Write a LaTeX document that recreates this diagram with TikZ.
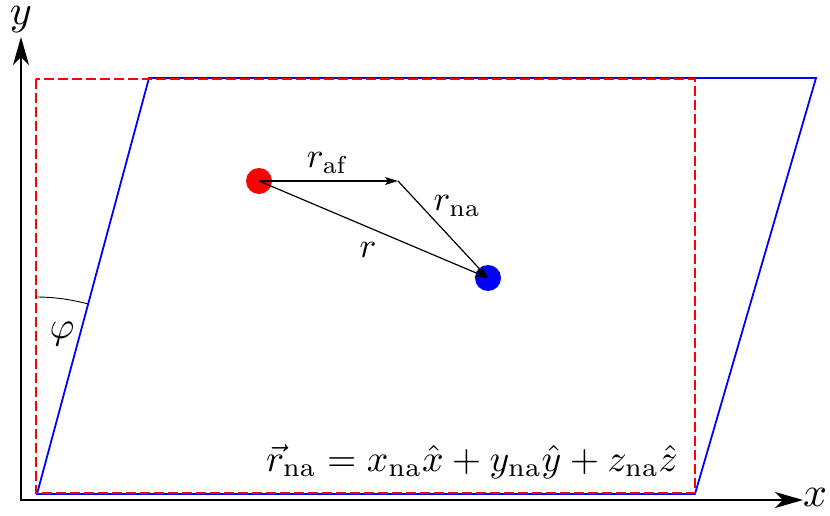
\documentclass[tikz,border=0pt]{standalone}
\usetikzlibrary{arrows.meta}
\begin{document}
\begin{tikzpicture}[x=1pt,y=-1pt,
  axis/.style={line width=1.6pt,{Stealth[length=28pt,width=16pt,inset=8pt]}-{Stealth[length=28pt,width=16pt,inset=8pt]}},
  vec/.style={line width=1.2pt,-{Stealth[length=13pt,width=8pt,inset=3pt]}},
  cell/.style={blue,line width=1.8pt,line join=miter},
  box/.style={red,line width=1.8pt,dash pattern=on 10pt off 4pt},
  dot/.style={circle,inner sep=0pt,minimum size=26pt},
  lab/.style={inner sep=0pt,scale=3.5},
  axlab/.style={inner sep=0pt,scale=4.2}]
\useasboundingbox (0,0) rectangle (830,516);
% axes
\coordinate (Ytip) at (21,37);
\coordinate (O) at (21,500);
\coordinate (Xtip) at (803,500);
\draw[axis] (Ytip) -- (O) -- (Xtip);
\node[axlab] (ylab) at (21,20) {$y$};
\node[axlab] (xlab) at (815,497) {$x$};
% cell
\coordinate (A) at (37,494);
\coordinate (B) at (695,494);
\coordinate (C) at (816,78);
\coordinate (D) at (149,78);
\draw[cell] (A) -- (B) -- (C) -- (D) -- cycle;
\draw[box] (36,79) rectangle (695,493);
% angle
\draw[line width=0.9pt] (36,297) arc[start angle=-90,end angle=-74.8,radius=197];
\node[inner sep=0pt,scale=3.8] (phi) at (62,334) {$\varphi$};
% atoms
\node[dot,fill=red] (af) at (259,181) {};
\node[dot,fill=blue] (na) at (488,278) {};
\coordinate (M) at (398,181);
\draw[vec] (af.center) -- (M);
\draw[vec] (M) -- (na.center);
\draw[vec] (af.center) -- (na.center);
\node[lab] (raf) at (328,163) {$r_{\rm af}$};
\node[lab] (rna) at (457,206) {$r_{\rm na}$};
\node[lab] (r) at (368,250) {$r$};
\node[inner sep=0pt,anchor=base,scale=3.77] (eq) at (472,471)
  {$\vec r_{\rm na}=x_{\rm na}\hat x+y_{\rm na}\hat y+z_{\rm na}\hat z$};
\end{tikzpicture}
\end{document}
